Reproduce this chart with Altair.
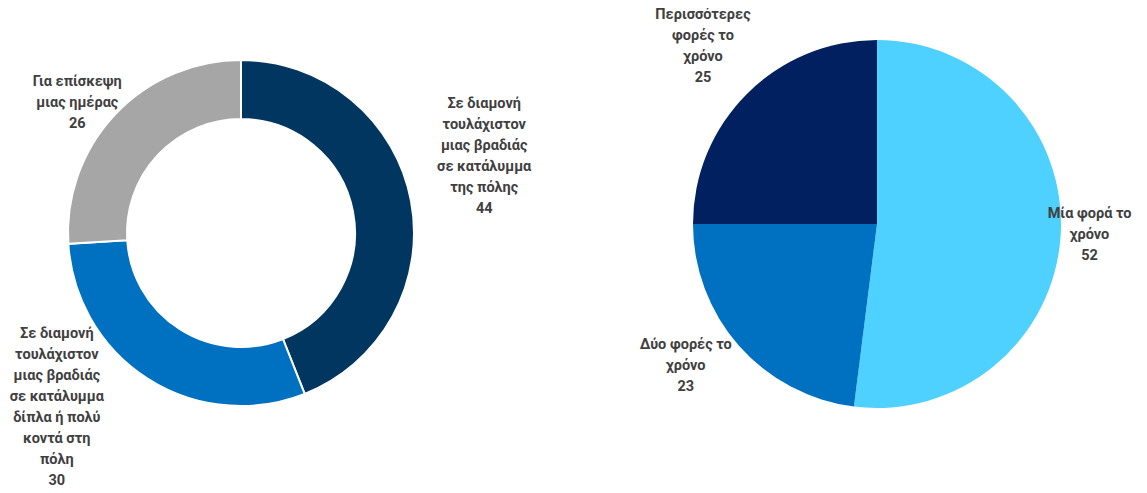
import altair as alt
import pandas as pd

# Left donut: type of visit
left_cats = [
    "Σε διαμονή τουλάχιστον μιας βραδιάς σε κατάλυμμα της πόλης",
    "Σε διαμονή τουλάχιστον μιας βραδιάς σε κατάλυμμα δίπλα ή πολύ κοντά στη πόλη",
    "Για επίσκεψη μιας ημέρας",
]
left_wrapped = [
    ["Σε διαμονή", "τουλάχιστον", "μιας βραδιάς", "σε κατάλυμμα", "της πόλης"],
    ["Σε διαμονή", "τουλάχιστον", "μιας βραδιάς", "σε κατάλυμμα", "δίπλα ή  πολύ", "κοντά στη", "πόλη"],
    ["Για επίσκεψη", "μιας ημέρας"],
]
left_vals = [44, 30, 26]
left_colors = ["#003660", "#0070C0", "#A6A6A6"]

# Right pie: frequency of visits
right_cats = ["Μία φορά το χρόνο", "Δύο φορές το χρόνο", "Περισσότερες φορές το χρόνο"]
right_wrapped = [
    ["Μία φορά το", "χρόνο"],
    ["Δύο φορές το", "χρόνο"],
    ["Περισσότερες", "φορές το", "χρόνο"],
]
right_vals = [52, 23, 25]
right_colors = ["#4FD1FF", "#0070C0", "#002060"]

# label style offsets (pixels, block centre relative to the theta/radius anchor)
left_label_dx = [32, -69, -7]
left_label_dy = [-36, -7, 17]
right_label_dx = [-2, -30, -22]
right_label_dy = [-2, 0, -25]

FONT = "Roboto"
TXT = "#404040"
LH = 21

all_cats = left_cats + right_cats
all_colors = left_colors + right_colors
color_scale = alt.Scale(domain=all_cats, range=all_colors)


def make_pie(cats, wrapped, vals, cx, cy, outer, inner, label_r, dxs, dys, stroke):
    df = pd.DataFrame({
        "cat": cats,
        "val": vals,
        "idx": list(range(len(cats))),
        "label": [lines + [str(v)] for lines, v in zip(wrapped, vals)],
    })
    arc_kwargs = dict(outerRadius=outer, innerRadius=inner)
    if stroke:
        arc_kwargs.update(stroke="white", strokeWidth=2)
    arcs = alt.Chart(df).mark_arc(**arc_kwargs).encode(
        theta=alt.Theta("val:Q", stack=True),
        order=alt.Order("idx:Q"),
        color=alt.Color("cat:N", scale=color_scale, legend=None),
        x=alt.value(cx), y=alt.value(cy),
    )
    layers = [arcs]
    for i in range(len(cats)):
        nlines = len(wrapped[i]) + 1
        t = alt.Chart(df).mark_text(
            radius=label_r, font=FONT, fontSize=14.5, fontWeight="bold", color=TXT,
            align="center", baseline="middle", lineHeight=LH, dx=dxs[i],
            dy=dys[i] - (nlines - 1) * LH / 2,
        ).encode(
            theta=alt.Theta("val:Q", stack=True),
            order=alt.Order("idx:Q"),
            text=alt.condition(alt.datum.idx == i, "label", alt.value("")),
            x=alt.value(cx), y=alt.value(cy),
        )
        layers.append(t)
    return layers


left_layers = make_pie(left_cats, left_wrapped, left_vals, 233, 225, 173, 114, 215,
                       left_label_dx, left_label_dy, True)
right_layers = make_pie(right_cats, right_wrapped, right_vals, 869, 216, 184, 0, 215,
                        right_label_dx, right_label_dy, False)

chart = (
    alt.layer(*left_layers, *right_layers)
    .properties(width=1131, height=477, padding=0, autosize=alt.AutoSizeParams(type="none"))
    .configure_view(stroke=None)
)
chart.save("out.html", embed_options={"renderer": "svg", "actions": False})
